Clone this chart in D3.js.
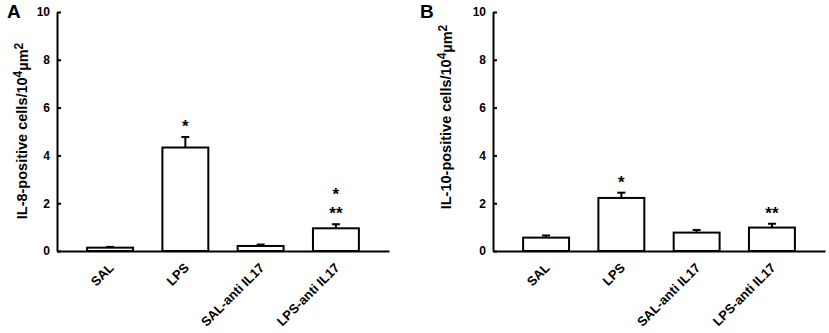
<!DOCTYPE html>
<html>
<head>
<meta charset="utf-8">
<script src="https://cdn.jsdelivr.net/npm/d3@7"></script>
<style>
  body { margin: 0; background: #fff; }
  svg { display: block; font-family: "Liberation Sans", Arial, sans-serif; font-weight: bold; }
</style>
</head>
<body>
<svg id="chart" width="829" height="333"></svg>
<script>
// groups and values
const groups = ["SAL", "LPS", "SAL-anti IL17", "LPS-anti IL17"];
const yTicks = [0, 2, 4, 6, 8, 10];

const il8Mean = [0.14, 4.33, 0.21, 0.95];
const il8Err = [0.03, 0.44, 0.06, 0.17];
const il8Stars = [[], ["*"], [], ["*", "**"]];

const il10Mean = [0.56, 2.22, 0.77, 0.98];
const il10Err = [0.09, 0.22, 0.11, 0.16];
const il10Stars = [[], ["*"], [], ["**"]];

const svg = d3.select("#chart");

function drawPanel(opts) {
  const x = d3.scaleBand().domain(groups).range([opts.x0, opts.x1])
    .paddingInner(0.39).paddingOuter(0.4);
  const y = d3.scaleLinear().domain([0, 10]).range([251, 12]);

  const g = svg.append("g");

  // bars
  g.selectAll("rect.bar")
    .data(groups)
    .enter()
    .append("rect")
    .attr("class", "bar")
    .attr("x", function (d) { return x(d); })
    .attr("width", x.bandwidth())
    .attr("y", function (d, i) { return y(opts.mean[i]); })
    .attr("height", function (d, i) { return y(0) - y(opts.mean[i]); })
    .style("fill", "#fff")
    .style("stroke", "#000")
    .style("stroke-width", 2);

  // error bars (upper only)
  const eb = g.selectAll("g.err")
    .data(groups)
    .enter()
    .append("g")
    .attr("class", "err")
    .style("stroke", "#000")
    .style("stroke-width", 2);
  eb.append("line")
    .attr("x1", function (d) { return x(d) + x.bandwidth() / 2; })
    .attr("x2", function (d) { return x(d) + x.bandwidth() / 2; })
    .attr("y1", function (d, i) { return y(opts.mean[i]); })
    .attr("y2", function (d, i) { return y(opts.mean[i] + opts.err[i]); });
  eb.append("line")
    .attr("x1", function (d) { return x(d) + x.bandwidth() / 2 - 4; })
    .attr("x2", function (d) { return x(d) + x.bandwidth() / 2 + 4; })
    .attr("y1", function (d, i) { return y(opts.mean[i] + opts.err[i]); })
    .attr("y2", function (d, i) { return y(opts.mean[i] + opts.err[i]); });

  // significance stars, stacked upward from the error bar
  groups.forEach(function (d, i) {
    const top = y(opts.mean[i] + opts.err[i]);
    const lines = opts.stars[i].slice().reverse();
    lines.forEach(function (s, j) {
      g.append("text")
        .attr("x", x(d) + x.bandwidth() / 2)
        .attr("y", top - 15 - j * 19 + 10)
        .attr("text-anchor", "middle")
        .style("font-size", "17px")
        .text(s);
    });
  });

  // y axis, ticks pointing inward
  const yAxis = g.append("g")
    .attr("transform", "translate(" + opts.x0 + ",0)")
    .call(d3.axisLeft(y).tickValues(yTicks).tickSize(-4).tickSizeOuter(0).tickPadding(7));
  yAxis.select(".domain").style("stroke-width", 2);
  yAxis.selectAll(".tick line").style("stroke-width", 2);
  yAxis.selectAll("text")
    .style("font-size", "12px")
    .style("font-family", "Liberation Sans, Arial, sans-serif")
    .style("font-weight", "bold");

  // x axis line without ticks
  const xAxis = g.append("g")
    .attr("transform", "translate(0," + y(0) + ")")
    .call(d3.axisBottom(x).tickSize(0).tickFormat(""));
  xAxis.select(".domain").style("stroke-width", 2);

  // rotated category labels
  g.selectAll("text.cat")
    .data(groups)
    .enter()
    .append("text")
    .attr("class", "cat")
    .attr("transform", function (d) {
      return "translate(" + (x(d) + x.bandwidth() / 2 - 2) + ",262) rotate(-45)";
    })
    .attr("dy", "0.71em")
    .attr("text-anchor", "end")
    .style("font-size", "13px")
    .text(function (d) { return d; });

  // y axis title
  const t = g.append("text")
    .attr("transform", "translate(" + opts.titleX + "," + opts.titleY + ") rotate(-90)")
    .attr("text-anchor", "middle")
    .style("font-size", "14.5px");
  t.append("tspan").text(opts.title + "/10");
  t.append("tspan").attr("dy", "-0.45em").style("font-size", "12px").text("4");
  t.append("tspan").attr("dy", "0.45em").text("\u00b5m");
  t.append("tspan").attr("dy", "-0.45em").style("font-size", "12px").text("2");

  // panel letter
  g.append("text")
    .attr("x", opts.letterX)
    .attr("y", 18)
    .style("font-size", "19px")
    .text(opts.letter);
}

drawPanel({
  x0: 57, x1: 389, mean: il8Mean, err: il8Err, stars: il8Stars,
  title: "IL-8-positive cells", titleX: 27, titleY: 131, letter: "A", letterX: 7
});
drawPanel({
  x0: 493, x1: 825, mean: il10Mean, err: il10Err, stars: il10Stars,
  title: "IL-10-positive cells", titleX: 451, titleY: 117, letter: "B", letterX: 420
});
</script>
</body>
</html>
